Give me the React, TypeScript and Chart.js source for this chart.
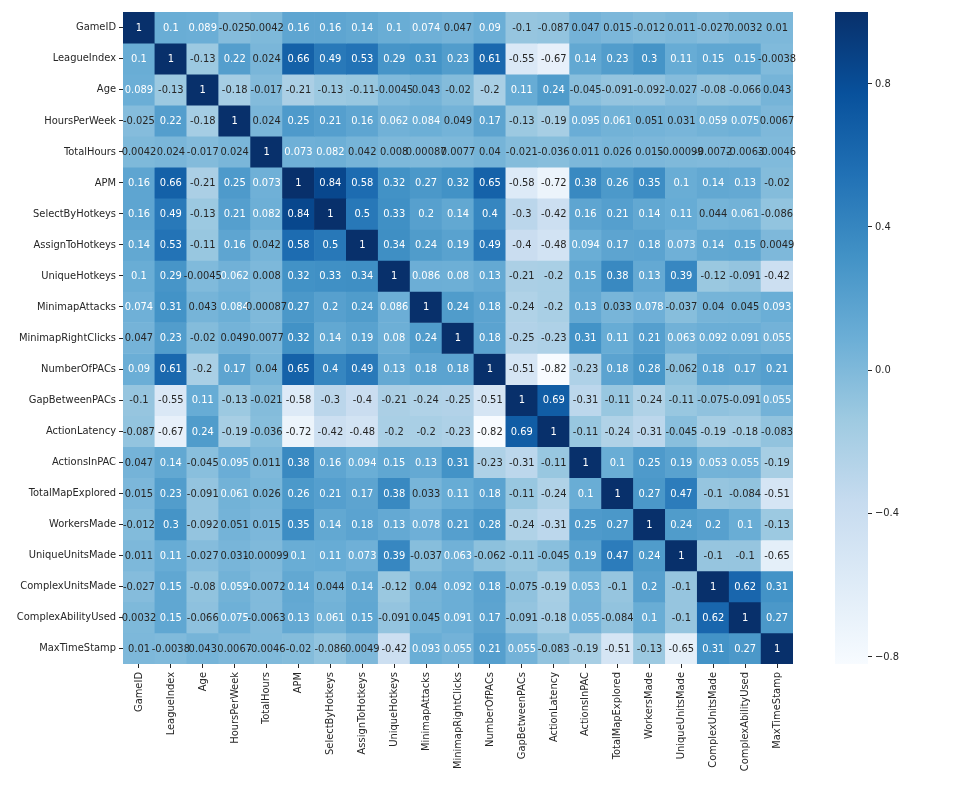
import React, { useEffect, useRef } from "react";
import { Chart, registerables } from "chart.js";

Chart.register(...registerables);

const labels = [
  "GameID", "LeagueIndex", "Age", "HoursPerWeek", "TotalHours", "APM",
  "SelectByHotkeys", "AssignToHotkeys", "UniqueHotkeys", "MinimapAttacks",
  "MinimapRightClicks", "NumberOfPACs", "GapBetweenPACs", "ActionLatency",
  "ActionsInPAC", "TotalMapExplored", "WorkersMade", "UniqueUnitsMade",
  "ComplexUnitsMade", "ComplexAbilityUsed", "MaxTimeStamp",
];

const rowGameID = [1, 0.1, 0.089, -0.025, 0.0042, 0.16, 0.16, 0.14, 0.1, 0.074, 0.047, 0.09, -0.1, -0.087, 0.047, 0.015, -0.012, 0.011, -0.027, 0.0032, 0.01];
const rowLeagueIndex = [0.1, 1, -0.13, 0.22, 0.024, 0.66, 0.49, 0.53, 0.29, 0.31, 0.23, 0.61, -0.55, -0.67, 0.14, 0.23, 0.3, 0.11, 0.15, 0.15, -0.0038];
const rowAge = [0.089, -0.13, 1, -0.18, -0.017, -0.21, -0.13, -0.11, -0.0045, 0.043, -0.02, -0.2, 0.11, 0.24, -0.045, -0.091, -0.092, -0.027, -0.08, -0.066, 0.043];
const rowHoursPerWeek = [-0.025, 0.22, -0.18, 1, 0.024, 0.25, 0.21, 0.16, 0.062, 0.084, 0.049, 0.17, -0.13, -0.19, 0.095, 0.061, 0.051, 0.031, 0.059, 0.075, 0.0067];
const rowTotalHours = [0.0042, 0.024, -0.017, 0.024, 1, 0.073, 0.082, 0.042, 0.008, 0.00087, 0.0077, 0.04, -0.021, -0.036, 0.011, 0.026, 0.015, -0.00099, -0.0072, -0.0063, -0.0046];
const rowAPM = [0.16, 0.66, -0.21, 0.25, 0.073, 1, 0.84, 0.58, 0.32, 0.27, 0.32, 0.65, -0.58, -0.72, 0.38, 0.26, 0.35, 0.1, 0.14, 0.13, -0.02];
const rowSelectByHotkeys = [0.16, 0.49, -0.13, 0.21, 0.082, 0.84, 1, 0.5, 0.33, 0.2, 0.14, 0.4, -0.3, -0.42, 0.16, 0.21, 0.14, 0.11, 0.044, 0.061, -0.086];
const rowAssignToHotkeys = [0.14, 0.53, -0.11, 0.16, 0.042, 0.58, 0.5, 1, 0.34, 0.24, 0.19, 0.49, -0.4, -0.48, 0.094, 0.17, 0.18, 0.073, 0.14, 0.15, 0.0049];
const rowUniqueHotkeys = [0.1, 0.29, -0.0045, 0.062, 0.008, 0.32, 0.33, 0.34, 1, 0.086, 0.08, 0.13, -0.21, -0.2, 0.15, 0.38, 0.13, 0.39, -0.12, -0.091, -0.42];
const rowMinimapAttacks = [0.074, 0.31, 0.043, 0.084, 0.00087, 0.27, 0.2, 0.24, 0.086, 1, 0.24, 0.18, -0.24, -0.2, 0.13, 0.033, 0.078, -0.037, 0.04, 0.045, 0.093];
const rowMinimapRightClicks = [0.047, 0.23, -0.02, 0.049, 0.0077, 0.32, 0.14, 0.19, 0.08, 0.24, 1, 0.18, -0.25, -0.23, 0.31, 0.11, 0.21, 0.063, 0.092, 0.091, 0.055];
const rowNumberOfPACs = [0.09, 0.61, -0.2, 0.17, 0.04, 0.65, 0.4, 0.49, 0.13, 0.18, 0.18, 1, -0.51, -0.82, -0.23, 0.18, 0.28, -0.062, 0.18, 0.17, 0.21];
const rowGapBetweenPACs = [-0.1, -0.55, 0.11, -0.13, -0.021, -0.58, -0.3, -0.4, -0.21, -0.24, -0.25, -0.51, 1, 0.69, -0.31, -0.11, -0.24, -0.11, -0.075, -0.091, 0.055];
const rowActionLatency = [-0.087, -0.67, 0.24, -0.19, -0.036, -0.72, -0.42, -0.48, -0.2, -0.2, -0.23, -0.82, 0.69, 1, -0.11, -0.24, -0.31, -0.045, -0.19, -0.18, -0.083];
const rowActionsInPAC = [0.047, 0.14, -0.045, 0.095, 0.011, 0.38, 0.16, 0.094, 0.15, 0.13, 0.31, -0.23, -0.31, -0.11, 1, 0.1, 0.25, 0.19, 0.053, 0.055, -0.19];
const rowTotalMapExplored = [0.015, 0.23, -0.091, 0.061, 0.026, 0.26, 0.21, 0.17, 0.38, 0.033, 0.11, 0.18, -0.11, -0.24, 0.1, 1, 0.27, 0.47, -0.1, -0.084, -0.51];
const rowWorkersMade = [-0.012, 0.3, -0.092, 0.051, 0.015, 0.35, 0.14, 0.18, 0.13, 0.078, 0.21, 0.28, -0.24, -0.31, 0.25, 0.27, 1, 0.24, 0.2, 0.1, -0.13];
const rowUniqueUnitsMade = [0.011, 0.11, -0.027, 0.031, -0.00099, 0.1, 0.11, 0.073, 0.39, -0.037, 0.063, -0.062, -0.11, -0.045, 0.19, 0.47, 0.24, 1, -0.1, -0.1, -0.65];
const rowComplexUnitsMade = [-0.027, 0.15, -0.08, 0.059, -0.0072, 0.14, 0.044, 0.14, -0.12, 0.04, 0.092, 0.18, -0.075, -0.19, 0.053, -0.1, 0.2, -0.1, 1, 0.62, 0.31];
const rowComplexAbilityUsed = [0.0032, 0.15, -0.066, 0.075, -0.0063, 0.13, 0.061, 0.15, -0.091, 0.045, 0.091, 0.17, -0.091, -0.18, 0.055, -0.084, 0.1, -0.1, 0.62, 1, 0.27];
const rowMaxTimeStamp = [0.01, -0.0038, 0.043, 0.0067, -0.0046, -0.02, -0.086, 0.0049, -0.42, 0.093, 0.055, 0.21, 0.055, -0.083, -0.19, -0.51, -0.13, -0.65, 0.31, 0.27, 1];

const matrix = [
  rowGameID, rowLeagueIndex, rowAge, rowHoursPerWeek, rowTotalHours, rowAPM,
  rowSelectByHotkeys, rowAssignToHotkeys, rowUniqueHotkeys, rowMinimapAttacks,
  rowMinimapRightClicks, rowNumberOfPACs, rowGapBetweenPACs, rowActionLatency,
  rowActionsInPAC, rowTotalMapExplored, rowWorkersMade, rowUniqueUnitsMade,
  rowComplexUnitsMade, rowComplexAbilityUsed, rowMaxTimeStamp,
];

const colorbarTicks = [-0.8, -0.4, 0.0, 0.4, 0.8];

const BLUES = [
  [247, 251, 255], [222, 235, 247], [198, 219, 239], [158, 202, 225],
  [107, 174, 214], [66, 146, 198], [33, 113, 181], [8, 81, 156], [8, 48, 107],
];

const vmin = Math.min(...matrix.map((r) => Math.min(...r)));
const vmax = Math.max(...matrix.map((r) => Math.max(...r)));

function bluesRGB(t: number): number[] {
  const c = Math.max(0, Math.min(1, t)) * 8;
  const i = Math.min(7, Math.floor(c));
  const f = c - i;
  const a = BLUES[i], b = BLUES[i + 1];
  return [0, 1, 2].map((k) => a[k] + (b[k] - a[k]) * f);
}
function toCss(rgb: number[]) {
  return `rgb(${Math.round(rgb[0])},${Math.round(rgb[1])},${Math.round(rgb[2])})`;
}
function colorFor(v: number) {
  return bluesRGB((v - vmin) / (vmax - vmin));
}
function lum(rgb: number[]) {
  const lin = rgb.map((c) => {
    const s = c / 255;
    return s <= 0.03928 ? s / 12.92 : Math.pow((s + 0.055) / 1.055, 2.4);
  });
  return 0.2126 * lin[0] + 0.7152 * lin[1] + 0.0722 * lin[2];
}

const FONT_FAMILY = "'DejaVu Sans Condensed', 'DejaVu Sans', sans-serif";
const TEXT = "#262626";

const annotPlugin = {
  id: "annot",
  afterDatasetsDraw(chart: any) {
    const ctx = chart.ctx;
    ctx.save();
    ctx.font = `11px ${FONT_FAMILY}`;
    ctx.textAlign = "center";
    ctx.textBaseline = "middle";
    chart.data.datasets.forEach((ds: any, i: number) => {
      const meta = chart.getDatasetMeta(i);
      meta.data.forEach((el: any, j: number) => {
        const v = matrix[i][j];
        const c = colorFor(v);
        ctx.fillStyle = lum(c) > 0.408 ? TEXT : "#ffffff";
        const p = el.getCenterPoint();
        ctx.fillText(String(v), p.x, p.y + 0.5);
      });
    });
    ctx.restore();
  },
};

function Heatmap() {
  const ref = useRef<HTMLCanvasElement>(null);
  useEffect(() => {
    const datasets = matrix.map((row, i) => ({
      label: labels[i],
      data: row.map(() => [i, i + 1]),
      backgroundColor: row.map((v) => toCss(colorFor(v))),
      borderColor: row.map((v) => toCss(colorFor(v))),
      borderWidth: 0,
      barPercentage: 1,
      categoryPercentage: 1,
      grouped: false,
    }));
    const chart = new Chart(ref.current!, {
      type: "bar",
      data: { labels, datasets: datasets as any },
      options: {
        animation: false,
        responsive: false,
        maintainAspectRatio: false,
        layout: { padding: { left: 0, top: 12, right: 7, bottom: 0 } },
        plugins: { legend: { display: false }, tooltip: { enabled: false } },
        scales: {
          x: {
            type: "category",
            offset: true,
            border: { display: false },
            grid: { display: true, offset: false, drawOnChartArea: false, drawTicks: true, tickLength: 4, tickColor: TEXT },
            ticks: { autoSkip: false, maxRotation: 90, minRotation: 90, padding: 4, color: TEXT, font: { family: FONT_FAMILY, size: 11 } },
            afterFit: (s: any) => { s.height = 123; },
          },
          y: {
            type: "linear",
            min: 0,
            max: labels.length,
            reverse: true,
            border: { display: false },
            grid: { display: true, drawOnChartArea: false, drawTicks: true, tickLength: 4, tickColor: TEXT },
            afterBuildTicks: (s: any) => { s.ticks = labels.map((_, i) => ({ value: i + 0.5 })); },
            ticks: {
              autoSkip: false,
              padding: 3,
              color: TEXT,
              font: { family: FONT_FAMILY, size: 11 },
              callback: (v: any) => labels[Math.round(Number(v) - 0.5)],
            },
            afterFit: (s: any) => { s.width = 123; },
          },
        },
      },
      plugins: [annotPlugin],
    });
    return () => chart.destroy();
  }, []);
  return <canvas ref={ref} width={800} height={787} style={{ position: "absolute", left: 0, top: 0, width: 800, height: 787 }} />;
}

function Colorbar() {
  const ref = useRef<HTMLCanvasElement>(null);
  useEffect(() => {
    const chart = new Chart(ref.current!, {
      type: "bar",
      data: {
        labels: ["cbar"],
        datasets: [{
          data: [[vmin, vmax]] as any,
          barPercentage: 1,
          categoryPercentage: 1,
          borderWidth: 0,
          backgroundColor: (ctx: any) => {
            const area = ctx.chart.chartArea;
            if (!area) return "#ccc";
            const g = ctx.chart.ctx.createLinearGradient(0, area.bottom, 0, area.top);
            BLUES.forEach((c, k) => g.addColorStop(k / 8, toCss(c)));
            return g;
          },
        }],
      },
      options: {
        animation: false,
        responsive: false,
        maintainAspectRatio: false,
        layout: { padding: { left: 35, top: 12, right: 0, bottom: 123 } },
        plugins: { legend: { display: false }, tooltip: { enabled: false } },
        scales: {
          x: { display: false },
          y: {
            position: "right",
            min: vmin,
            max: vmax,
            border: { display: false },
            grid: { display: true, drawOnChartArea: false, drawTicks: true, tickLength: 4, tickColor: TEXT },
            afterBuildTicks: (s: any) => { s.ticks = colorbarTicks.map((v) => ({ value: v })); },
            ticks: {
              padding: 3,
              color: TEXT,
              font: { family: FONT_FAMILY, size: 11 },
              callback: (v: any) => {
                const n = Number(v);
                const s = Math.abs(n).toFixed(1);
                return n < -1e-9 ? "\u2212" + s : s;
              },
            },
            afterFit: (s: any) => { s.width = 94; },
          },
        },
      },
    });
    return () => chart.destroy();
  }, []);
  return <canvas ref={ref} width={162} height={787} style={{ position: "absolute", left: 800, top: 0, width: 162, height: 787 }} />;
}

export default function App() {
  return (
    <div style={{ position: "absolute", left: 0, top: 0, width: 962, height: 787, background: "#ffffff" }}>
      <Heatmap />
      <Colorbar />
    </div>
  );
}
